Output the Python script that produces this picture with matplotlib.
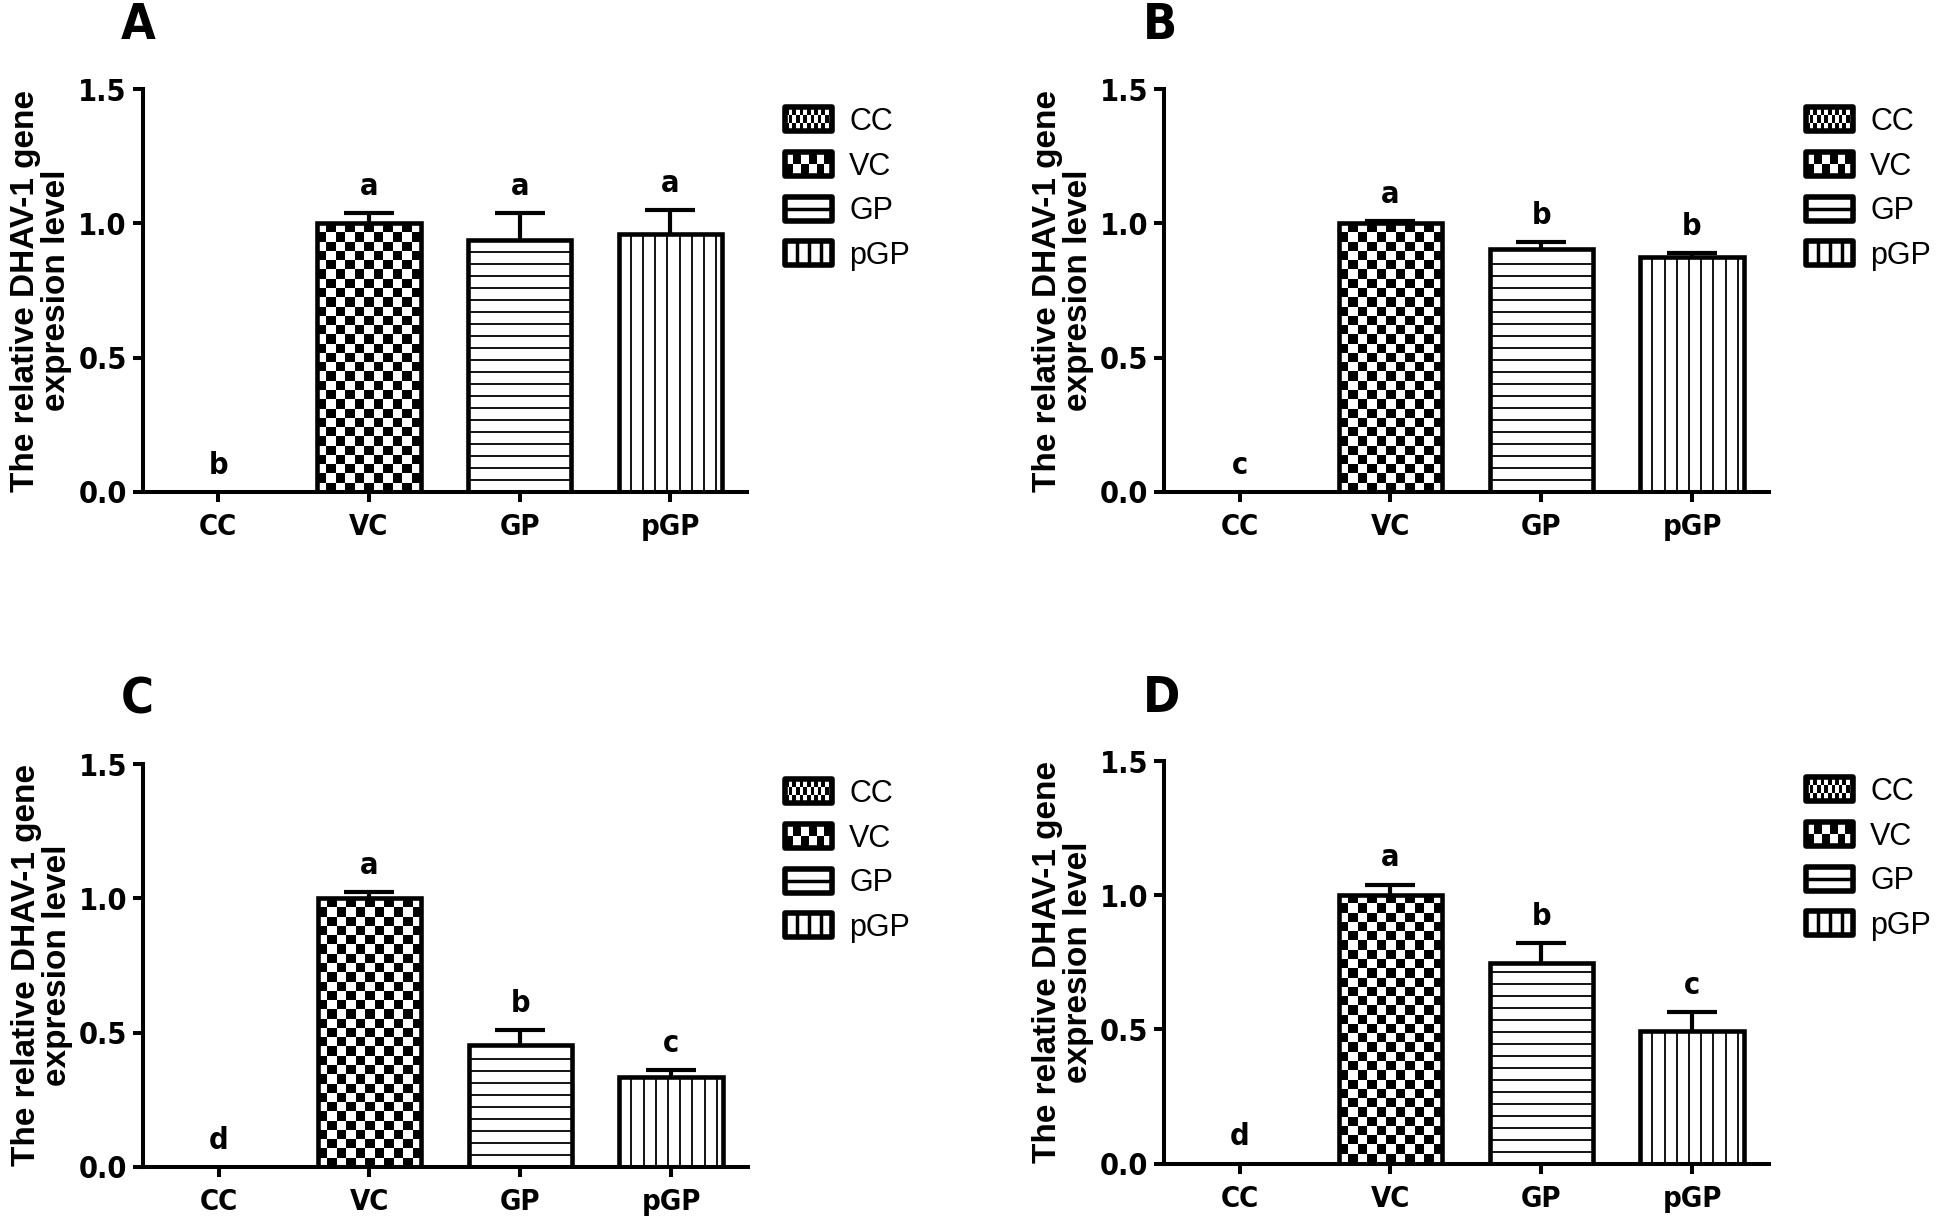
import numpy as np
import matplotlib
matplotlib.use('Agg')
import matplotlib.pyplot as plt
from matplotlib import font_manager
from matplotlib.patches import Rectangle
from matplotlib.lines import Line2D
from matplotlib.legend_handler import HandlerBase
from matplotlib.font_manager import FontProperties

# ---- data ----
categories = ['CC', 'VC', 'GP', 'pGP']
panel_tags = ['A', 'B', 'C', 'D']

means_A = [0.0, 1.00, 0.94, 0.96]
err_A = [0.0, 0.04, 0.10, 0.09]
letters_A = ['b', 'a', 'a', 'a']

means_B = [0.0, 1.00, 0.905, 0.875]
err_B = [0.0, 0.01, 0.025, 0.013]
letters_B = ['c', 'a', 'b', 'b']

means_C = [0.0, 1.00, 0.455, 0.335]
err_C = [0.0, 0.025, 0.053, 0.027]
letters_C = ['d', 'a', 'b', 'c']

means_D = [0.0, 1.00, 0.748, 0.495]
err_D = [0.0, 0.04, 0.075, 0.07]
letters_D = ['d', 'a', 'b', 'c']

ylabel = 'The relative DHAV-1 gene\nexpresion level'

# ---- fonts: narrow bold for ticks/letters if there is one ----
fonts = font_manager.fontManager.ttflist
names = {f.name for f in fonts}
if 'Liberation Sans Narrow' in names:
    NARROW = dict(family='Liberation Sans Narrow')
elif any(f.name == 'DejaVu Sans' and f.stretch == 'condensed' for f in fonts):
    NARROW = dict(family='DejaVu Sans', stretch='condensed')
else:
    NARROW = dict(family='Liberation Sans')
WIDE = 'Liberation Sans'

W, H = 1946, 1218
fig = plt.figure(figsize=(W / 100, H / 100), dpi=100)

AX_W = 604.6
AX_H = 402.4
# left edge px, x-axis px (from top)
ax_px = {'A': (142.7, 491.7), 'B': (1164.3, 491.7),
         'C': (143.3, 1166.7), 'D': (1164.3, 1163.5)}
tag_px = {'A': (121, 39), 'B': (1142.6, 39), 'C': (121, 714), 'D': (1142.6, 712)}
leg_px = {'A': (785, 107), 'B': (1806, 107), 'C': (785, 779), 'D': (1806, 777)}

XLIM = (-0.5, 3.51)
YLIM = (0, 1.5)
BAR_W = 0.686
styles = ['none', 'checker', 'hlines', 'vlines']


class PatternHandler(HandlerBase):
    def __init__(self, kind):
        super().__init__()
        self.kind = kind

    def create_artists(self, legend, orig_handle, xdescent, ydescent,
                       width, height, fontsize, trans):
        x0, y0 = -xdescent, -ydescent
        arts = [Rectangle((x0, y0), width, height, facecolor='white',
                          edgecolor='none', transform=trans)]
        if self.kind in ('fine', 'coarse'):
            nr, nc = (3, 13) if self.kind == 'fine' else (2, 6)
            for r in range(nr):
                for c in range(nc):
                    if (r + c) % 2 == 0:
                        arts.append(Rectangle((x0 + c * width / nc, y0 + r * height / nr),
                                              width / nc, height / nr, facecolor='black',
                                              edgecolor='none', transform=trans))
        elif self.kind == 'h':
            arts.append(Line2D([x0, x0 + width], [y0 + height / 2] * 2,
                               color='black', lw=2.5, transform=trans))
        elif self.kind == 'v':
            for k in range(1, 4):
                xx = x0 + k * width / 4
                arts.append(Line2D([xx, xx], [y0, y0 + height], color='black',
                                   lw=2.5, transform=trans))
        arts.append(Rectangle((x0, y0), width, height, facecolor='none',
                              edgecolor='black', lw=4, joinstyle='round',
                              transform=trans))
        return arts


def draw_panel(tag, means, errs, letters):
    left, base = ax_px[tag]
    ax = fig.add_axes([left / W, 1 - base / H, AX_W / W, AX_H / H])
    x = np.arange(len(categories))
    ax.set_xlim(*XLIM)
    ax.set_ylim(*YLIM)
    ppx = AX_W / (XLIM[1] - XLIM[0])
    ppy = AX_H / (YLIM[1] - YLIM[0])

    fills = ax.bar(x, means, BAR_W, color='white', edgecolor='none', zorder=1)
    for bar, st in zip(fills, styles):
        x0, w, h = bar.get_x(), bar.get_width(), bar.get_height()
        if h <= 0:
            continue
        if st == 'checker':
            ncols = 11
            sq_h = (w / ncols) * ppx / ppy
            rows = max(1, int(round(h / sq_h)))
            arr = np.indices((rows, ncols)).sum(axis=0) % 2
            im = ax.imshow(arr, cmap='binary', vmin=0, vmax=1, origin='lower',
                           extent=(x0, x0 + w, 0, h), aspect='auto',
                           interpolation='nearest', zorder=2)
            im.set_clip_path(bar)
        elif st == 'hlines':
            step = 12.0 / ppy
            ys = np.arange(step, h - 0.3 * step, step)
            ax.hlines(ys, x0, x0 + w, colors='black', lw=1.3, zorder=2)
        elif st == 'vlines':
            step = 12.2 / ppx
            xs = x0 + np.arange(step, w - 0.3 * step, step)
            ax.vlines(xs, 0, h, colors='black', lw=1.3, zorder=2)

    ax.bar(x, means, BAR_W, facecolor='none', edgecolor='black', lw=3.3, zorder=3)

    idx = [i for i in range(len(means)) if means[i] > 0]
    eb = ax.errorbar(x[idx], [means[i] for i in idx],
                     yerr=[[0] * len(idx), [errs[i] for i in idx]],
                     fmt='none', ecolor='black', elinewidth=3, capsize=18,
                     capthick=3, zorder=2.5)
    eb[1][0].set_visible(False)

    for i in range(len(means)):
        ax.annotate(letters[i], (x[i], means[i] + errs[i]), xytext=(0, 13),
                    textcoords='offset points', ha='center', va='baseline',
                    fontsize=22, fontweight='bold', **NARROW)

    ax.set_xlim(*XLIM)
    ax.set_ylim(*YLIM)
    ax.set_xticks(x)
    ax.set_xticklabels(categories)
    ax.set_yticks([0, 0.5, 1.0, 1.5])
    ax.set_yticklabels(['0.0', '0.5', '1.0', '1.5'])
    for s in ['top', 'right']:
        ax.spines[s].set_visible(False)
    for s in ['left', 'bottom']:
        ax.spines[s].set_linewidth(2.9)
    ax.tick_params(axis='both', direction='out', length=7.5, width=2.9)
    ax.tick_params(axis='y', pad=4, labelsize=22)
    ax.tick_params(axis='x', pad=8, labelsize=21)
    for lab in ax.get_xticklabels() + ax.get_yticklabels():
        lab.set_fontproperties(FontProperties(weight='bold',
                                              size=lab.get_fontsize(), **NARROW))

    ax.text(-0.1674, 0.5, ylabel, transform=ax.transAxes, rotation=90,
            ha='center', va='center', multialignment='center', linespacing=1.0,
            fontsize=24, fontweight='bold', family=WIDE)

    tx, ty = tag_px[tag]
    fig.text(tx / W, 1 - ty / H, tag, ha='left', va='baseline', fontsize=36,
             fontweight='bold', **NARROW)

    handles = [Rectangle((0, 0), 1, 1) for _ in categories]
    kinds = ['fine', 'coarse', 'h', 'v']
    lx, ly = leg_px[tag]
    ax.legend(handles, categories,
              handler_map={h_: PatternHandler(k) for h_, k in zip(handles, kinds)},
              loc='upper left', bbox_to_anchor=(lx / W, 1 - ly / H),
              bbox_transform=fig.transFigure, frameon=False,
              handlelength=1.55, handleheight=0.83, handletextpad=0.55,
              labelspacing=0.48, borderpad=0, borderaxespad=0,
              prop=FontProperties(family=WIDE, size=22))
    return ax


draw_panel('A', means_A, err_A, letters_A)
draw_panel('B', means_B, err_B, letters_B)
draw_panel('C', means_C, err_C, letters_C)
draw_panel('D', means_D, err_D, letters_D)

fig.savefig('out.png', dpi=100)
